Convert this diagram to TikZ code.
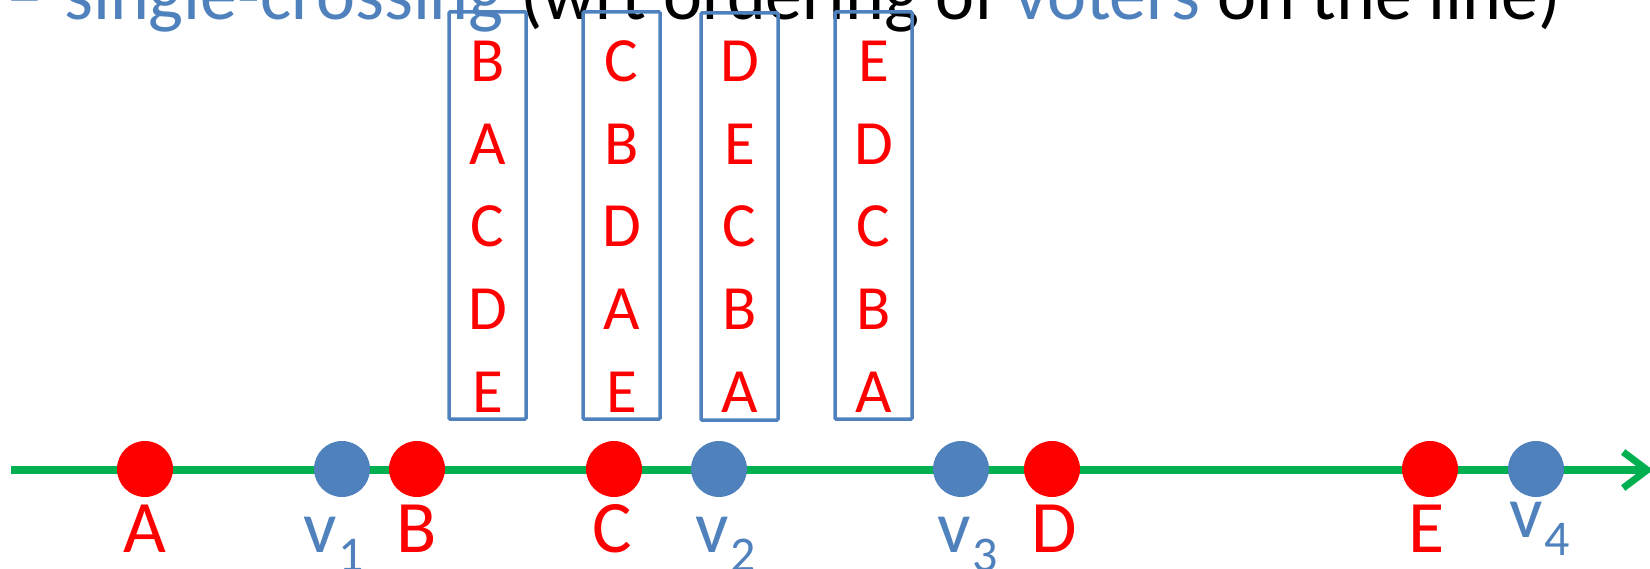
\documentclass[tikz,border=0pt]{standalone}
\usepackage{fontspec}
\setmainfont{Carlito}
\usetikzlibrary{arrows.meta}
\definecolor{accblue}{HTML}{4F81BD}
\definecolor{ptred}{HTML}{FF0000}
\definecolor{axisgreen}{HTML}{00B050}
\newcommand\sublab[2]{v\kern1pt\raisebox{-#2pt}{\fontsize{50}{54}\selectfont #1}}
\begin{document}
\begin{tikzpicture}[x=1pt,y=-1pt,
  big/.style={font=\fontsize{74}{80}\selectfont, inner sep=0pt},
  cand/.style={big, text=ptred, anchor=base},
  vlab/.style={big, text=accblue, anchor=base west},
  dot/.style={circle, inner sep=0pt, minimum size=56pt},
  candpt/.style={dot, fill=ptred},
  voterpt/.style={dot, fill=accblue},
  prefbox/.style={draw=accblue, line width=3.5pt, rounded corners=1pt,
    minimum width=77pt, minimum height=407pt, inner sep=0pt},
  prefitem/.style={font=\fontsize{63}{70}\selectfont, text=ptred, inner sep=0pt, anchor=base},
  axisline/.style={draw=axisgreen, line width=8pt,
    -{Straight Barb[length=24pt,width=36pt,line width=7pt]}}
]
\useasboundingbox (0,0) rectangle (1650,569);
\clip (0,0) rectangle (1650,569);

% heading line (partly above the frame)
\node[big, text=accblue, anchor=base east] (dash) at (44,20) {–};
\node[big, anchor=base west] (head) at (64,20)
  {{\color{accblue}single-crossing} (wrt ordering of {\color{accblue}voters} on the line)};

% preference orders of the four voters
\node[prefbox] (p1) at (487.5,215.5) {};
\node[prefbox] (p2) at (621.5,215.5) {};
\node[prefbox] (p3) at (739.5,216.5) {};
\node[prefbox] (p4) at (873.5,215.5) {};
\foreach \bx/\cx/\order in {1/487.5/{B,A,C,D,E}, 2/621.5/{C,B,D,A,E},
                            3/739.5/{D,E,C,B,A}, 4/873.5/{E,D,C,B,A}} {
  \foreach \c [count=\r] in \order {
    \node[prefitem] (p\bx r\r) at (\cx, {82.5*\r-0.5}) {\c};
  }
}

% the line
\coordinate (axL) at (11,470);
\coordinate (axR) at (1653,470);
\draw[axisline] (axL) -- (axR);

% candidates and voters on the line
\node[candpt] (dA) at (145,469) {};
\node[voterpt] (dv1) at (342,469) {};
\node[candpt] (dB) at (417,469) {};
\node[candpt] (dC) at (614,469) {};
\node[voterpt] (dv2) at (719,469) {};
\node[voterpt] (dv3) at (961,469) {};
\node[candpt] (dD) at (1052,469) {};
\node[candpt] (dE) at (1430,469) {};
\node[voterpt] (dv4) at (1536,469) {};

% labels
\node[cand] (lA) at (145,552) {A};
\node[cand] (lB) at (417,552) {B};
\node[cand] (lC) at (612,552) {C};
\node[cand] (lD) at (1054,552) {D};
\node[cand] (lE) at (1427,552) {E};
\node[vlab] (lv1) at (303.5,552) {\sublab{1}{19}};
\node[vlab] (lv2) at (695.5,552) {\sublab{2}{19}};
\node[vlab] (lv3) at (937.5,552) {\sublab{3}{19}};
\node[vlab] (lv4) at (1509.5,537) {\sublab{4}{18}};
\end{tikzpicture}
\end{document}
